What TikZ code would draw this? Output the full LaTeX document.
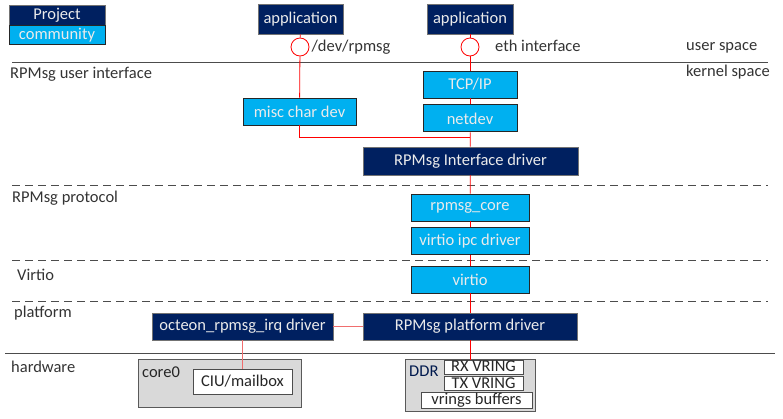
\documentclass[tikz,border=0pt]{standalone}
\usepackage{fontspec}
\setmainfont{Carlito}
\usepackage{tikz}
\usetikzlibrary{positioning}
\definecolor{navy}{RGB}{0,32,96}
\definecolor{sky}{RGB}{0,176,240}
\definecolor{hwgray}{RGB}{217,217,217}
\definecolor{softred}{RGB}{240,110,110}
\tikzstyle{project}=[rectangle, draw=black!55, fill=navy, text=white!92!black, line width=0.9pt, inner sep=0pt, minimum height=27pt]
\tikzstyle{community}=[rectangle, draw=black!85, fill=sky, text=white!92!black, line width=0.9pt, inner sep=0pt, minimum height=27pt]
\tikzstyle{hwbox}=[rectangle, draw=black!65, fill=hwgray, line width=1pt]
\tikzstyle{slot}=[rectangle, draw=black!70, fill=white, text=black!85, line width=0.9pt, inner sep=0pt]
\tikzstyle{port}=[circle, draw=red, fill=white, line width=0.8pt, minimum size=18pt, inner sep=0pt]
\tikzstyle{layer}=[anchor=west, text=black!80, inner sep=0pt]
\tikzstyle{link}=[draw=red, line width=0.8pt]
\tikzstyle{softlink}=[draw=softred, line width=1.4pt]
\tikzstyle{border}=[draw=black!70, line width=1pt]
\tikzstyle{sep}=[draw=black!70, line width=1pt, dash pattern=on 8pt off 5pt]

\begin{document}
\begin{tikzpicture}[x=1pt, y=-1pt, font=\fontsize{16.5}{18}\selectfont]
  \useasboundingbox (0,0) rectangle (783,418);

  % legend
  \node[project, minimum width=96pt, minimum height=20pt] (legproj) at (57,15) {Project};
  \node[community, minimum width=96pt, minimum height=19pt, below=0pt of legproj] (legcomm) {community};

  % user space
  \node[project, minimum width=85pt, minimum height=30pt] (app1) at (300.5,19) {application};
  \node[project, minimum width=86pt, minimum height=30pt] (app2) at (470,19) {application};
  \node[port] (dev) at (300,47) {}
    edge [link] (app1);
  \node[port] (eth) at (470,47) {}
    edge [link] (app2);
  \node[layer] (devlbl) [right=2pt of dev] {/dev/rpmsg};
  \node[layer] (ethlbl) at (495,46) {eth interface};
  \node[layer] (user) at (686,48) {user space};
  \node[layer] (kernel) at (686,72) {kernel space};
  \draw[border] (12,62) -- (768,62);

  % RPMsg user interface
  \node[layer] (luser) at (10,74) {RPMsg user interface};
  \node[community, minimum width=94pt] (tcp) at (470,84.5) {TCP/IP}
    edge [link] (eth);
  \node[community, minimum width=94pt] (netdev) [below=6pt of tcp] {netdev}
    edge [link] (tcp);
  \node[community, minimum width=113pt] (misc) at (299.5,111.5) {misc char dev}
    edge [link] (dev);
  \node[project, minimum width=215pt, minimum height=28pt] (iface) at (470.5,161) {RPMsg Interface driver};
  \coordinate (join) at (470,137);
  \draw[link] (netdev) -- (iface);
  \draw[link] (misc.south) |- (join);
  \draw[sep] (12,185) -- (768,185);

  % RPMsg protocol
  \node[layer] (lproto) at (12,198) {RPMsg protocol};
  \node[community, minimum width=118pt] (core) at (470,207.5) {rpmsg\_core}
    edge [link] (iface);
  \node[community, minimum width=118pt] (ipc) [below=6pt of core] {virtio ipc driver}
    edge [link] (core);
  \draw[sep] (12,260) -- (768,260);

  % Virtio
  \node[layer] (lvirtio) at (17,275) {Virtio};
  \node[community, minimum width=118pt] (virtio) at (470,279.5) {virtio}
    edge [link] (ipc);
  \draw[sep] (12,301) -- (768,301);

  % platform
  \node[layer] (lplat) at (14,313) {platform};
  \node[project, minimum width=181pt] (irq) at (242.5,326.5) {octeon\_rpmsg\_irq driver};
  \node[project, minimum width=214pt] (plat) at (470,326.5) {RPMsg platform driver}
    edge [link] (virtio)
    edge [softlink] (irq);
  \draw[border] (5,353) -- (775,353);

  % hardware
  \node[layer] (lhw) at (11,367) {hardware};
  \node[hwbox, minimum width=163pt, minimum height=48pt] (core0) at (219.5,383) {};
  \node[layer, text=black!85] at (142,372) {core0};
  \node[slot, minimum width=99pt, minimum height=25pt] (ciu) at (242.5,381.5) {CIU/mailbox}
    edge [softlink] (irq);
  \node[hwbox, minimum width=130pt, minimum height=52pt] (ddr) at (470,385) {};
  \node[layer, text=navy!80!black] at (409,371) {DDR};
  \node[slot, minimum width=79pt, minimum height=14pt, text height=9pt, text depth=0pt] (rx) at (483.5,367) {RX VRING};
  \node[slot, minimum width=79pt, minimum height=14pt, text height=9pt, text depth=0pt] (tx) [below=2pt of rx] {TX VRING};
  \node[slot, minimum width=111pt, minimum height=16pt] (bufs) at (476.5,400) {vrings buffers};
  \draw[link] (plat.south) -- (plat.south |- rx.north);
\end{tikzpicture}
\end{document}
